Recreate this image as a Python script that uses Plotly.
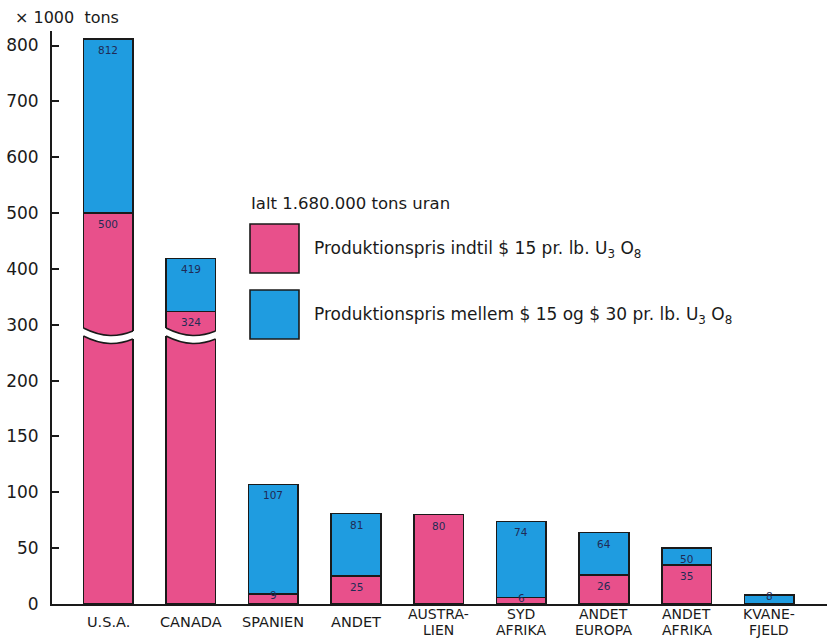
import plotly.graph_objects as go

# ---------------- data ----------------
categories = ["U.S.A.", "CANADA", "SPANIEN", "ANDET", "AUSTRA-\nLIEN",
              "SYD\nAFRIKA", "ANDET\nEUROPA", "ANDET\nAFRIKA", "KVANE-\nFJELD"]
low_cost = [500, 324, 9, 25, 80, 6, 26, 35, 0]          # up to $15 / lb U3O8
total = [812, 419, 107, 81, 80, 74, 64, 50, 8]           # cumulative total
ytick_values = [0, 50, 100, 150, 200, 300, 400, 500, 600, 700, 800]
broken_bars = [0, 1]                                     # bars with axis break

PINK = "#e8508b"
BLUE = "#1f9ce0"
INK = "#1a1a1a"
LABEL = "#1f2b55"
FONT = "DejaVu Sans"


def f(v):
    """broken scale: 0-200 linear, above 200 compressed by factor 2"""
    return v if v <= 200 else 200 + (v - 200) / 2.0


n = len(categories)
xs = list(range(n))
high_cost = [t - l for t, l in zip(total, low_cost)]
pink_h = [f(l) for l in low_cost]
blue_h = [f(t) - f(l) for t, l in zip(total, low_cost)]

fig = go.Figure()
fig.add_trace(go.Bar(x=xs, y=pink_h, marker=dict(color=PINK, line=dict(color=INK, width=1.6)),
                     width=0.6, showlegend=False, hoverinfo="skip"))
fig.add_trace(go.Bar(x=xs, y=blue_h, marker=dict(color=BLUE, line=dict(color=INK, width=1.6)),
                     width=0.6, showlegend=False, hoverinfo="skip"))

# pixel geometry helpers
L, R, T, B = 52, 0, 31, 34
W, H = 827, 638
PW, PH = W - L - R, H - T - B
YMAX = 513.0
XMIN, XMAX = -0.68, 8.7
upy = PH / YMAX                 # px per y-unit


def px2x(px):
    return (px - L) / PW


def py2y(py):
    return (H - B - py) / PH


annotations = []
# segment labels
for i in range(n):
    segs = []
    if low_cost[i] > 0:
        segs.append((f(low_cost[i]), low_cost[i], pink_h[i]))
    if high_cost[i] > 0:
        segs.append((f(total[i]), total[i], blue_h[i] if low_cost[i] > 0 else f(total[i])))
    for top, val, hgt in segs:
        small = hgt * upy < 16
        annotations.append(dict(x=i, y=top, xref="x", yref="y", text=str(val), showarrow=False,
                                yanchor="middle", yshift=-1 if small else -11,
                                font=dict(family=FONT, size=10.5, color=LABEL)))

# category labels (two lines tight)
for i, c in enumerate(categories):
    lines = c.split("\n")
    if len(lines) == 1:
        annotations.append(dict(x=i, y=0, xref="x", yref="paper", text=lines[0], showarrow=False,
                                yanchor="middle", yshift=-18,
                                font=dict(family=FONT, size=14.5, color=INK)))
    else:
        for k, ln in enumerate(lines):
            annotations.append(dict(x=i, y=0, xref="x", yref="paper", text=ln, showarrow=False,
                                    yanchor="middle", yshift=-9.5 - 16.5 * k,
                                    font=dict(family=FONT, size=14, color=INK)))

# unit label
annotations.append(dict(x=px2x(13), y=py2y(17), xref="paper", yref="paper", text="× 1000  tons",
                        showarrow=False, xanchor="left", yanchor="middle",
                        font=dict(family=FONT, size=16, color=INK)))

# legend
annotations.append(dict(x=px2x(249), y=py2y(203), xref="paper", yref="paper",
                        text="Ialt 1.680.000 tons uran", showarrow=False, xanchor="left",
                        yanchor="middle", font=dict(family=FONT, size=16.5, color=INK)))
legend_items = [("Produktionspris indtil $ 15 pr. lb. U<sub>3</sub> O<sub>8</sub>", PINK, 224),
                ("Produktionspris mellem $ 15 og $ 30 pr. lb. U<sub>3</sub> O<sub>8</sub>", BLUE, 290)]
shapes = []
for txt, col, top in legend_items:
    shapes.append(dict(type="rect", xref="paper", yref="paper",
                       x0=px2x(250), x1=px2x(299), y0=py2y(top), y1=py2y(top + 49),
                       fillcolor=col, line=dict(color=INK, width=1.6)))
    annotations.append(dict(x=px2x(312), y=py2y(top + 25), xref="paper", yref="paper", text=txt,
                            showarrow=False, xanchor="left", yanchor="middle",
                            font=dict(family=FONT, size=17, color=INK)))

# axis-break waves
gap = 8 / upy
up_y = (H - B - 328) / upy          # upper edge (data units)
d1, d2, d3 = 10 / upy, 9 / upy, 3 / upy
for i in broken_bars:
    xl, xr = i - 0.3, i + 0.3
    w = xr - xl
    e = 0.04
    ya, yb = up_y, up_y - gap
    band = (f"M {xl - e},{ya} L {xl},{ya} "
            f"C {xl + 0.4 * w},{ya - d1} {xl + 0.7 * w},{ya - d2} {xr},{ya - d3} "
            f"L {xr + e},{ya - d3} L {xr + e},{yb - d3} L {xr},{yb - d3} "
            f"C {xl + 0.7 * w},{yb - d2} {xl + 0.4 * w},{yb - d1} {xl},{yb} "
            f"L {xl - e},{yb} Z")
    shapes.append(dict(type="path", xref="x", yref="y", path=band, fillcolor="white",
                       line=dict(width=0)))
    for yy in (ya, yb):
        edge = (f"M {xl},{yy} C {xl + 0.4 * w},{yy - d1} {xl + 0.7 * w},{yy - d2} "
                f"{xr},{yy - d3}")
        shapes.append(dict(type="path", xref="x", yref="y", path=edge,
                           line=dict(color=INK, width=1.6)))

fig.update_layout(
    barmode="stack",
    width=W, height=H,
    margin=dict(l=L, r=R, t=T, b=B, pad=0),
    paper_bgcolor="white", plot_bgcolor="white",
    font=dict(family=FONT, color=INK),
    annotations=annotations,
    shapes=shapes,
    xaxis=dict(range=[XMIN, XMAX], showticklabels=False, ticks="", showgrid=False,
               zeroline=False, showline=True, linecolor=INK, linewidth=2, fixedrange=True),
    yaxis=dict(range=[0, YMAX], tickvals=[f(v) for v in ytick_values],
               ticktext=[str(v) for v in ytick_values], ticks="inside", ticklen=7,
               tickwidth=1.6, tickcolor=INK, showgrid=False, zeroline=False, showline=True,
               linecolor=INK, linewidth=2, ticklabelstandoff=8,
               tickfont=dict(family=FONT, size=17, color=INK)),
)

fig.write_html("out.html")
